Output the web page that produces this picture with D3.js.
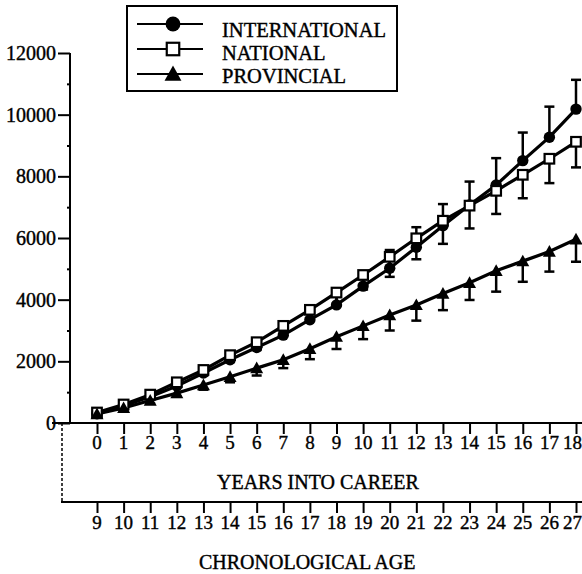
<!DOCTYPE html>
<html><head><meta charset="utf-8">
<script src="https://cdn.jsdelivr.net/npm/d3@7"></script>
<style>body{margin:0;background:#fff}svg{display:block}</style>
</head><body>
<script>
const years = d3.range(0, 19);
const ages = d3.range(9, 28);
const yTicks = [0, 2000, 4000, 6000, 8000, 10000, 12000];
const yMinor = [1000, 3000, 5000, 7000, 9000, 11000];
const seriesNames = ["INTERNATIONAL", "NATIONAL", "PROVINCIAL"];
const international = [300, 560, 850, 1200, 1620, 2050, 2450, 2850, 3350, 3830, 4440, 5020, 5700, 6400, 7070, 7720, 8510, 9270, 10180];
const national = [340, 600, 920, 1320, 1720, 2200, 2620, 3150, 3670, 4230, 4800, 5390, 5990, 6560, 7050, 7530, 8050, 8570, 9120];
const provincial = [290, 490, 730, 970, 1230, 1500, 1780, 2050, 2410, 2800, 3150, 3500, 3830, 4200, 4550, 4940, 5250, 5560, 5960];
const intSD = [60, 80, 100, 130, 160, 200, 230, 270, 320, 380, 430, 590, 650, 700, 760, 870, 910, 990, 950];
const natSD = [60, 90, 120, 150, 180, 220, 250, 300, 350, 420, 470, 650, 680, 750, 740, 750, 760, 790, 830];
const provSD = [60, 80, 100, 120, 150, 180, 240, 270, 340, 400, 430, 500, 510, 540, 560, 680, 670, 650, 730];

const W = 582, H = 574;
const FONT = "'Liberation Serif', 'Times New Roman', Times, serif";
const svg = d3.select("body").append("svg").attr("width", W).attr("height", H)
  .attr("font-family", FONT);
const x = d3.scaleLinear().domain([0, 18]).range([97, 576]);
const y = d3.scaleLinear().domain([0, 12000]).range([423, 53]);
const ageScale = d3.scaleLinear().domain([9, 27]).range(x.range());
const ageY = 502;

function styleText(sel, size) {
  sel.attr("font-family", FONT).attr("font-size", size).attr("fill", "#000")
    .attr("stroke", "#000").attr("stroke-width", 0.4);
}

// Y axis
const yAxis = svg.append("g").attr("transform", "translate(70,0)")
  .call(d3.axisLeft(y).tickValues(yTicks).tickSize(12).tickPadding(2).tickFormat(d3.format("d")));
styleText(yAxis.selectAll("text"), 20);
yAxis.attr("font-family", FONT);
yAxis.selectAll("line,path").attr("stroke", "#000").attr("stroke-width", 2);
yAxis.select(".domain").attr("d", `M0,${y(12000)}V${y(0)}`);
svg.append("g").attr("transform", "translate(70,0)")
  .call(d3.axisLeft(y).tickValues(yMinor).tickSize(3).tickFormat(""))
  .call(g => g.select(".domain").remove())
  .selectAll("line").attr("stroke", "#000").attr("stroke-width", 2);

// Top X axis (years)
const xAxis = svg.append("g").attr("transform", `translate(0,${y(0)})`)
  .call(d3.axisBottom(x).tickValues(years).tickSize(11).tickPadding(0).tickFormat(""));
xAxis.select(".domain").attr("d", `M52,0H${W}`);
xAxis.selectAll("line,path").attr("stroke", "#000").attr("stroke-width", 2);
svg.append("g").selectAll("text").data(years).join("text")
  .attr("x", d => d === 18 ? 582 : x(d)).attr("y", 449)
  .attr("text-anchor", d => d === 18 ? "end" : "middle")
  .text(d => d).call(s => styleText(s, 19));

// Age axis
const aAxis = svg.append("g").attr("transform", `translate(0,${ageY})`)
  .call(d3.axisBottom(ageScale).tickValues(ages).tickSize(11).tickPadding(0).tickFormat(""));
aAxis.select(".domain").attr("d", `M61,0H${W}`);
aAxis.selectAll("line,path").attr("stroke", "#000").attr("stroke-width", 2);
svg.append("g").selectAll("text").data(ages).join("text")
  .attr("x", d => d === 27 ? 582 : ageScale(d)).attr("y", 529)
  .attr("text-anchor", d => d === 27 ? "end" : "middle")
  .text(d => d).call(s => styleText(s, 19));

svg.append("line").attr("x1", 62).attr("x2", 62).attr("y1", y(0)).attr("y2", ageY)
  .attr("stroke", "#000").attr("stroke-width", 1.5).attr("stroke-dasharray", "3,2");

svg.append("text").attr("x", 217).attr("y", 489)
  .text("YEARS INTO CAREER").call(s => styleText(s, 20));
svg.append("text").attr("x", 199).attr("y", 569)
  .text("CHRONOLOGICAL AGE").call(s => styleText(s, 20));

// Series
const series = [
  {name: seriesNames[0], vals: international, sd: intSD, dir: -1, shape: "circle"},
  {name: seriesNames[1], vals: national, sd: natSD, dir: 1, shape: "square"},
  {name: seriesNames[2], vals: provincial, sd: provSD, dir: 1, shape: "triangle"}
];
const line = d3.line().x((d, i) => x(years[i])).y(d => y(d));
const plot = svg.append("g");

function drawMarker(g, shape, cx, cy, s) {
  if (shape === "circle") {
    g.append("circle").attr("cx", cx).attr("cy", cy).attr("r", 5.7 * s).attr("fill", "#000");
  } else if (shape === "square") {
    const h = 4.8 * s;
    g.append("rect").attr("x", cx - h).attr("y", cy - h).attr("width", 2 * h).attr("height", 2 * h)
      .attr("fill", "#fff").attr("stroke", "#000").attr("stroke-width", 2.2);
  } else {
    const h = 6.5 * s;
    g.append("path").attr("d", `M${cx},${cy - h}L${cx + h},${cy + h * 0.8}L${cx - h},${cy + h * 0.8}Z`).attr("fill", "#000");
  }
}

// error bars (international upward, national & provincial downward)
series.forEach(s => {
  const g = plot.append("g");
  s.vals.forEach((v, i) => {
    const cx = x(years[i]);
    const end = s.dir < 0 ? v + s.sd[i] : v - s.sd[i];
    g.append("line").attr("x1", cx).attr("x2", cx).attr("y1", y(v)).attr("y2", y(end))
      .attr("stroke", "#000").attr("stroke-width", 2.5);
    g.append("line").attr("x1", cx - 5).attr("x2", cx + 5).attr("y1", y(end)).attr("y2", y(end))
      .attr("stroke", "#000").attr("stroke-width", 2.5);
  });
});
series.forEach(s => {
  plot.append("path").datum(s.vals).attr("d", line).attr("fill", "none")
    .attr("stroke", "#000").attr("stroke-width", 3.2);
});
series.forEach(s => {
  const g = plot.append("g");
  s.vals.forEach((v, i) => drawMarker(g, s.shape, x(years[i]), y(v), 1));
});

// Legend
const lg = svg.append("g");
lg.append("rect").attr("x", 127).attr("y", 6).attr("width", 270).attr("height", 85)
  .attr("fill", "#fff").attr("stroke", "#000").attr("stroke-width", 2);
const rowsY = [24, 49, 74];
const baseY = [37, 60, 83];
series.forEach((s, k) => {
  lg.append("line").attr("x1", 137).attr("x2", 203).attr("y1", rowsY[k]).attr("y2", rowsY[k])
    .attr("stroke", "#000").attr("stroke-width", 2);
  drawMarker(lg, s.shape, 173, rowsY[k], 1.3);
  lg.append("text").attr("x", 222).attr("y", baseY[k]).text(s.name).call(t => styleText(t, 20.5));
});
</script>
</body></html>
